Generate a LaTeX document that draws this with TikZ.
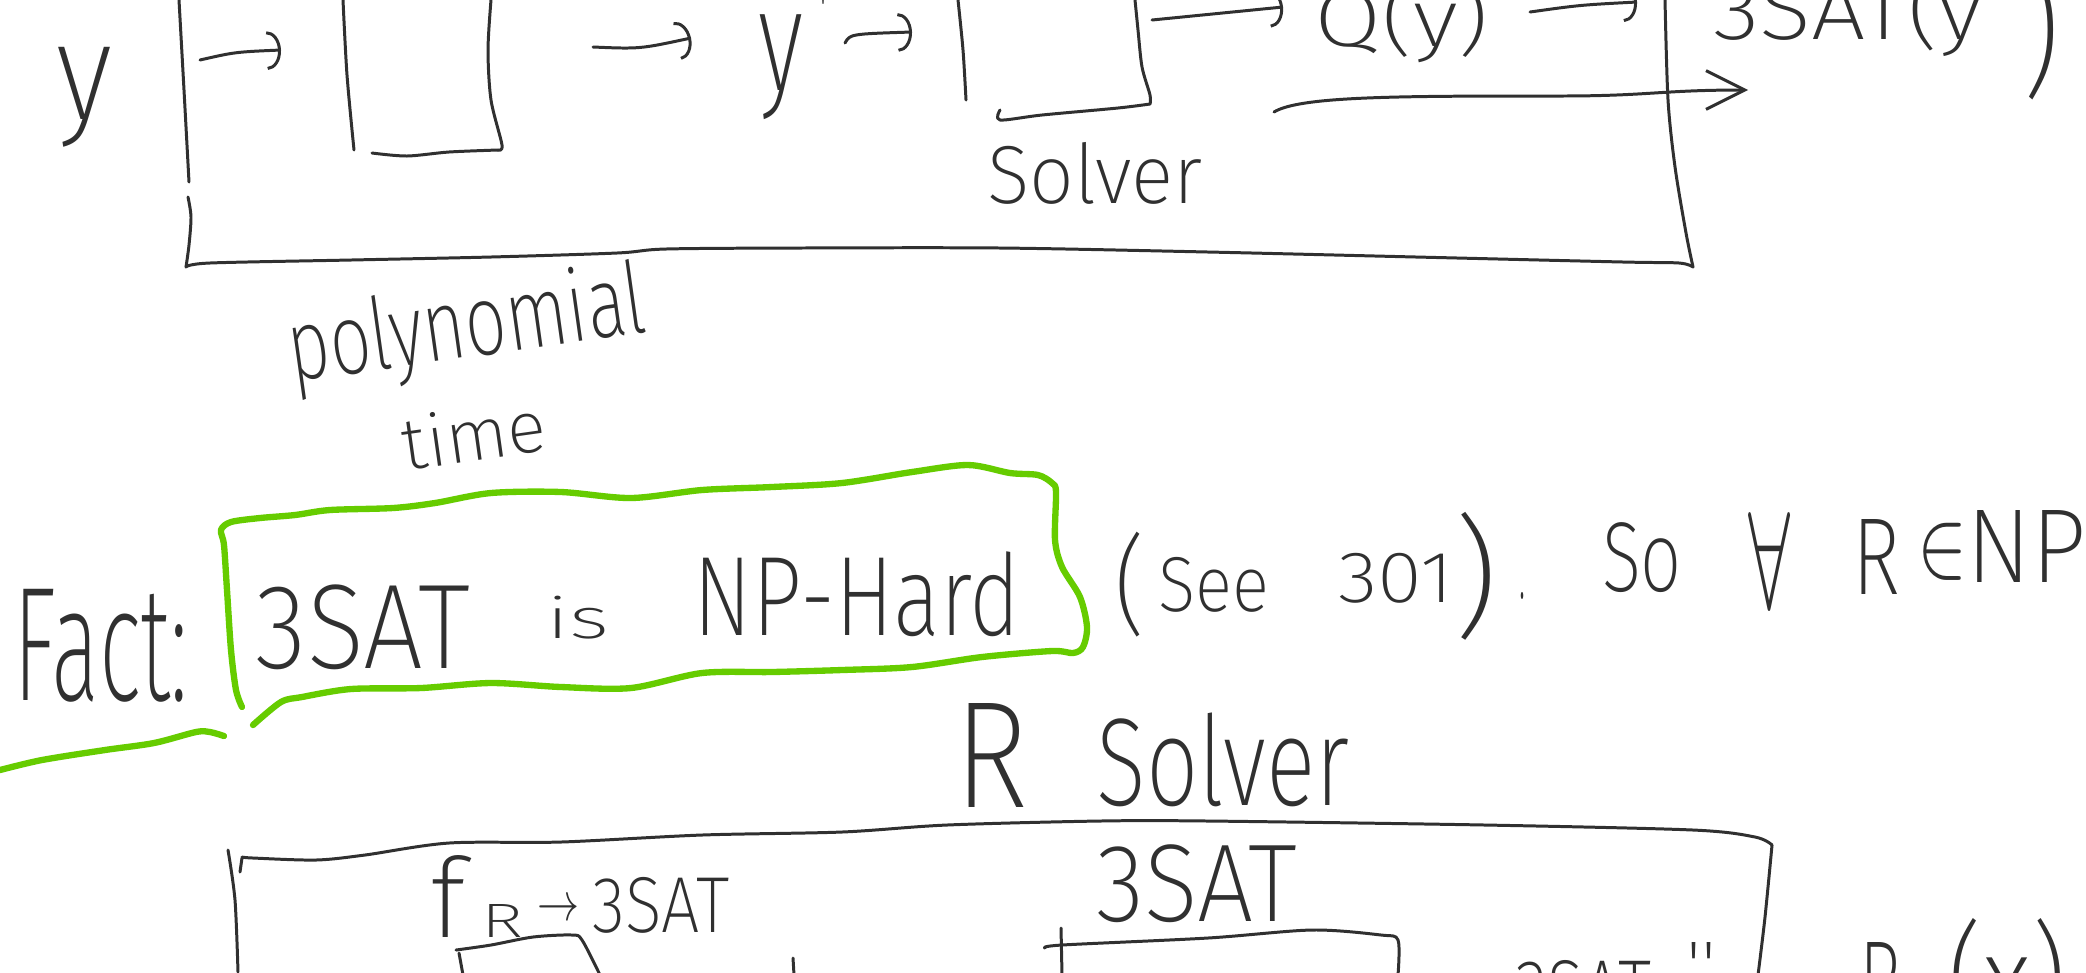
\documentclass[tikz,border=0pt]{standalone}
\usepackage{fontspec}
\usepackage{graphicx}
\usetikzlibrary{arrows.meta}
\IfFontExistsTF{Fira Sans ExtraLight}{\newfontfamily\hwfont{Fira Sans ExtraLight}}{%
 \IfFontExistsTF{FiraSans-ExtraLight.otf}{\newfontfamily\hwfont{FiraSans-ExtraLight.otf}}{%
  \IfFontExistsTF{Fira Sans Light}{\newfontfamily\hwfont{Fira Sans Light}}{\newfontfamily\hwfont{Fira Sans}}}}
\definecolor{ink}{HTML}{303030}
\definecolor{hl}{HTML}{66CC00}
\newlength\pxu \setlength\pxu{0.01cm}
\newcommand\hw[3]{\resizebox*{#1\pxu}{#2\pxu}{\hwfont #3}}
\begin{document}
\begin{tikzpicture}[x=0.01cm,y=-0.01cm,line cap=round,line join=round,
  pen/.style={draw=ink,line width=0.85pt},
  gpen/.style={draw=hl,line width=1.8pt},
  tx/.style={inner sep=0pt,outer sep=0pt,text=ink},
  tip/.style={-{Arc Barb[length=4pt,width=11pt]}},
  sharptip/.style={-{Straight Barb[length=11pt,width=11pt]}}]
\useasboundingbox (0,0) rectangle (2086,972);
\fill[white] (0,0) rectangle (2086,972);
\clip (0,0) rectangle (2086,972);

% ---------- top section ----------
\node[tx] (yin) at (84,97) {\hw{56}{100}{y}};
\node[tx] (yprime) at (781,67) {\hw{45}{105}{y}};
\node[tx] (prime) at (823,6) {\hw{7}{16}{'}};
\node[tx] (solverA) at (1095,173) {\hw{216}{62}{Solver}};
\node[tx] (qy) at (1402,21) {\hw{175}{84}{Q(y)}};
\node[tx] (satY) at (1848,13) {\hw{270}{88}{3SAT(y}};
\node[tx] (bigparen) at (2041,30) {\hw{38}{140}{)}};
\node[tx,rotate=8] (poly) at (467,330) {\hw{360}{95}{polynomial}};
\node[tx,rotate=8] (time) at (474,434) {\hw{145}{55}{time}};

% big reduction box
\draw[pen] plot[smooth,tension=0.5] coordinates {(179,0) (184,90) (189,182)};
\draw[pen] plot[smooth,tension=0.5] coordinates {(188,197) (191,217) (189,245) (186,267)};
\draw[pen] plot[smooth,tension=0.5] coordinates {(186,267) (210,263) (351,260) (491,257) (617,253) (666,249) (800,248) (1000,248) (1208,252) (1416,257) (1623,262) (1679,263) (1693,267)};
\draw[pen] plot[smooth,tension=0.5] coordinates {(1693,267) (1686,233) (1675,167) (1668,100) (1665,0)};

% box f
\draw[pen] plot[smooth,tension=0.5] coordinates {(343,0) (347,75) (354,150)};
\draw[pen] plot[smooth,tension=0.5] coordinates {(491,0) (488,50) (491,100) (502,145) (498,150)};
\draw[pen] plot[smooth,tension=0.5] coordinates {(372,153) (407,156) (449,152) (498,150)};

% solver box
\draw[pen] plot[smooth,tension=0.5] coordinates {(958,0) (963,50) (966,100)};
\draw[pen] plot[smooth,tension=0.5] coordinates {(1000,110) (1000,120) (1042,115) (1118,108) (1150,104)};
\draw[pen] plot[smooth,tension=0.5] coordinates {(1135,0) (1138,30) (1142,67) (1150,95) (1150,104)};

% arrows
\coordinate (a1s) at (200,60); \coordinate (a1e) at (281,50);
\draw[pen,tip] (a1s) .. controls (235,52) .. (a1e);
\coordinate (a2s) at (593,47); \coordinate (a2e) at (691,38);
\draw[pen,tip] (a2s) .. controls (640,49) .. (a2e);
\coordinate (a3s) at (845,43); \coordinate (a3e) at (912,32);
\draw[pen,tip] (a3s) .. controls (850,34) .. (a3e);
\coordinate (a4s) at (1152,20); \coordinate (a4e) at (1283,7);
\draw[pen,tip] (a4s) -- (a4e);
\coordinate (a5s) at (1530,12); \coordinate (a5e) at (1637,2);
\draw[pen,tip] (a5s) .. controls (1580,5) .. (a5e);
\coordinate (a6s) at (1274,112); \coordinate (a6m) at (1560,96); \coordinate (a6e) at (1748,90);
\draw[pen,sharptip] (a6s) .. controls (1300,96) and (1400,96) .. (a6m) .. controls (1650,96) and (1660,90) .. (a6e);

% ---------- fact line ----------
\node[tx] (fact) at (101,646) {\hw{175}{113}{Fact:}};
\node[tx] (s3sat) at (363,627) {\hw{214}{85}{3SAT}};
\node[tx] (is) at (578,618) {\hw{63}{43}{is}};
\node[tx] (nphard) at (857,594) {\hw{327}{85}{NP-Hard}};
\node[tx] (lp) at (1130,585) {\hw{31}{105}{(}};
\node[tx] (see) at (1214,585) {\hw{111}{55}{See}};
\node[tx] (n301) at (1396,578) {\hw{115}{50}{301}};
\node[tx] (rp) at (1476,576) {\hw{45}{128}{)}};
\node[tx] (dot) at (1522,596) {\hw{6}{7}{.}};
\node[tx] (so) at (1642,558) {\hw{80}{70}{So}};
\node[tx] (forall) at (1769,560) {\hw{42}{96}{$\forall$}};
\node[tx] (rr) at (1876,557) {\hw{48}{75}{R}};
\node[tx] (inn) at (1942,552) {\hw{50}{57}{$\in$}};
\node[tx] (np) at (2026,546) {\hw{120}{72}{NP}};

% green highlight
\draw[gpen] plot[smooth,tension=0.5] coordinates {(242,707) (236,690) (231,650) (227,590) (224,545) (221,530) (231,522) (260,518) (295,515) (330,510) (393,508) (435,503) (491,493) (561,492) (631,498) (702,490) (772,487) (842,483) (912,472) (968,465) (1010,473) (1038,475) (1052,483) (1056,492) (1055,540) (1062,567) (1080,597) (1087,627) (1083,647) (1073,653) (1052,651) (982,657) (912,667) (842,670) (772,672) (702,673) (631,688) (561,687) (491,683) (421,688) (351,689) (302,697) (281,702) (253,725)};
\draw[gpen] plot[smooth,tension=0.5] coordinates {(0,770) (42,760) (105,750) (154,743) (196,732) (210,732) (224,736)};

% ---------- bottom section ----------
\node[tx] (rlab) at (991,755) {\hw{74}{104}{R}};
\node[tx] (solverB) at (1223,760) {\hw{253}{94}{Solver}};
\node[tx] (ff) at (448,896) {\hw{35}{82}{f}};
\node[tx] (fr) at (502,921) {\hw{42}{33}{R}};
\node[tx] (farr) at (558,910) {\hw{42}{20}{$\rightarrow$}};
\node[tx] (f3sat) at (661,905) {\hw{137}{56}{3SAT}};
\node[tx] (sat3) at (1197,884) {\hw{201}{78}{3SAT}};
\node[tx] (satout) at (1583,990) {\hw{136}{60}{3SAT}};
\node[tx] (quote) at (1701,965) {\hw{30}{45}{''}};
\node[tx] (rx) at (1880,982) {\hw{42}{80}{R}};
\node[tx] (px) at (2007,979) {\hw{120}{122}{(x)}};

\draw[pen] plot[smooth,tension=0.5] coordinates {(228,850) (235,900) (238,972)};
\draw[pen] (242,858) -- (240,872);
\draw[pen] plot[smooth,tension=0.5] coordinates {(242,857) (253,858) (316,860) (365,855) (449,843) (561,842) (702,835) (842,832) (947,825) (1100,821) (1208,821) (1485,825) (1693,830) (1755,837) (1772,845)};
\draw[pen] plot[smooth,tension=0.5] coordinates {(1772,845) (1765,917) (1758,975)};
% small f box
\draw[pen] plot[smooth,tension=0.5] coordinates {(456,950) (491,945) (533,937) (572,935) (582,940) (600,975)};
\draw[pen] (459,953) -- (463,975);
\draw[pen] (793,958) -- (794,975);
% 3SAT solver box
\draw[pen] (1061,928) -- (1062,975);
\draw[pen] plot[smooth,tension=0.5] coordinates {(1045,948) (1062,945) (1208,938) (1312,930) (1381,935) (1398,940) (1398,975)};
\end{tikzpicture}
\end{document}
